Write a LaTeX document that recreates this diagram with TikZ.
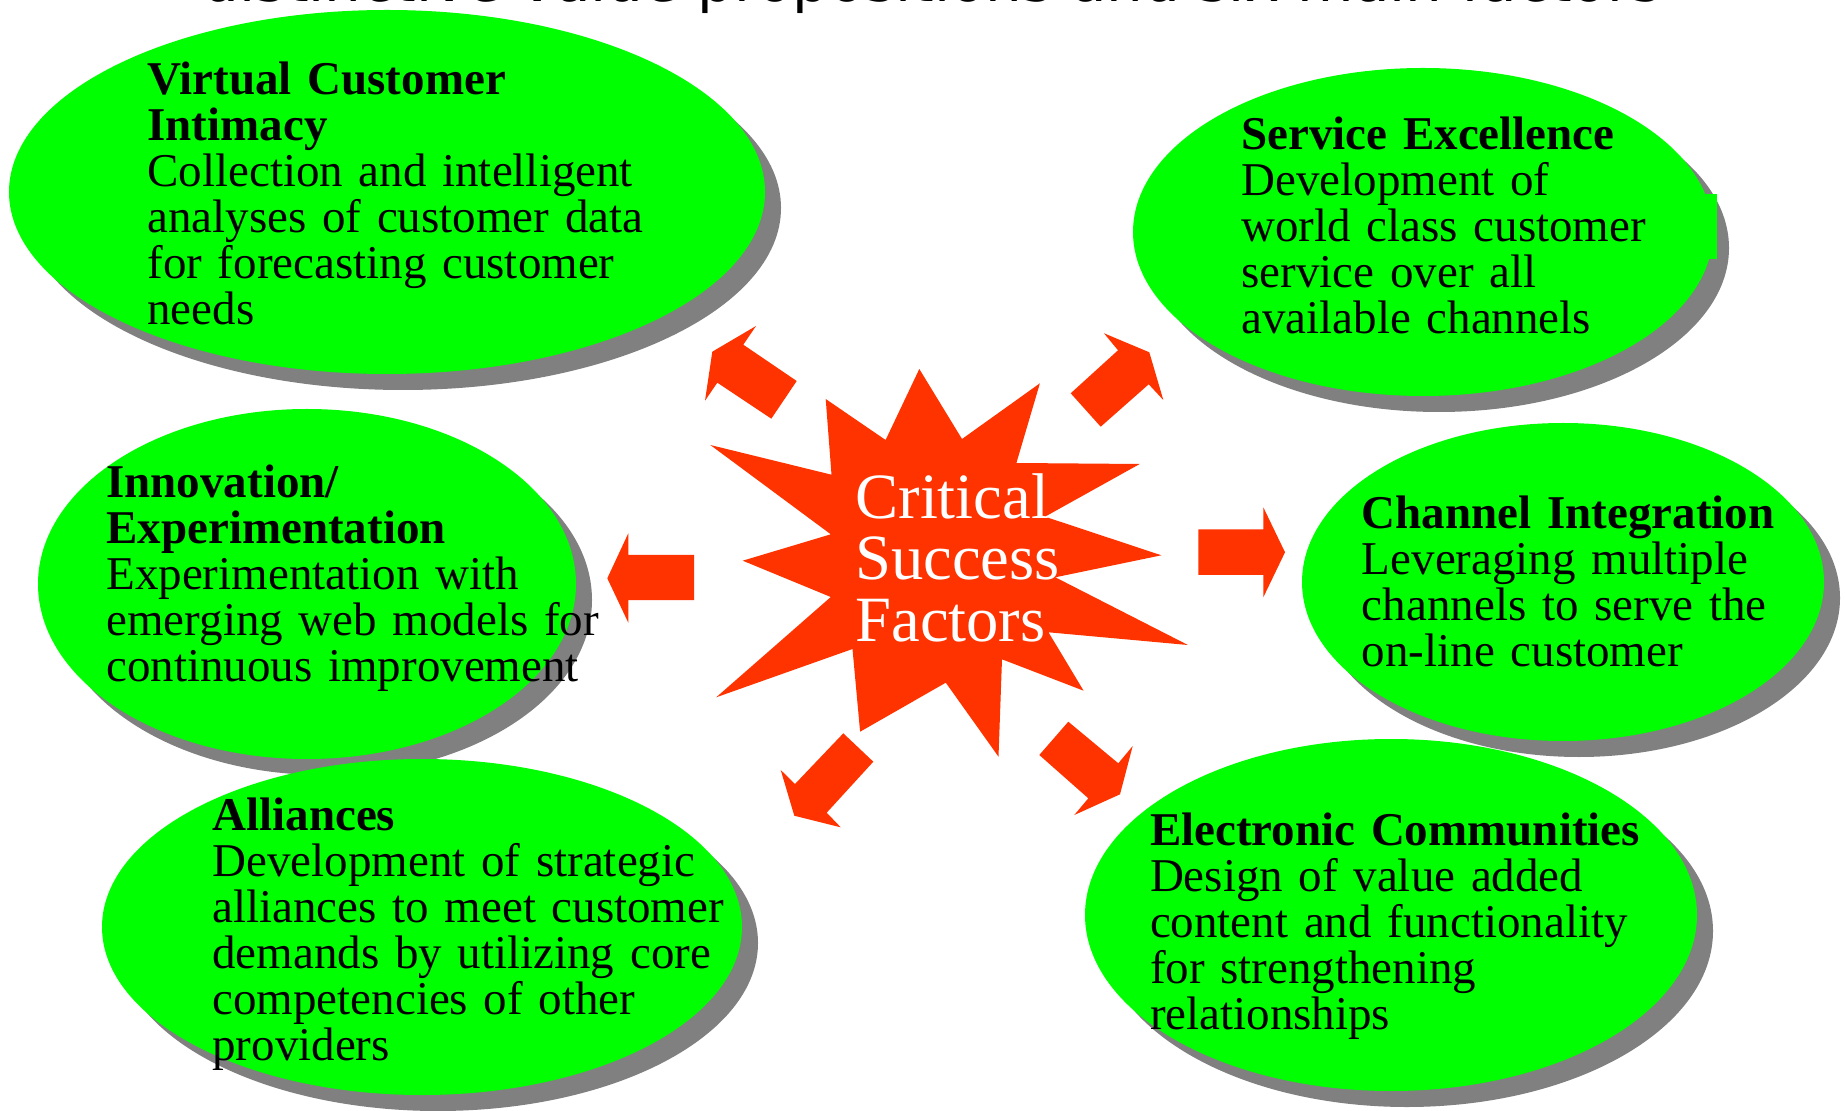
\documentclass[tikz,border=0pt]{standalone}
\usepackage{fontspec}
\setmainfont{Liberation Serif}
\newfontfamily\titlefont{DejaVu Sans}
\usetikzlibrary{shapes.geometric,shadows}
\definecolor{vgreen}{RGB}{0,255,0}
\definecolor{hot}{RGB}{255,51,0}
\definecolor{shgray}{RGB}{128,128,128}
\tikzset{
  blob/.style={ellipse, fill=vgreen, inner sep=0pt, outer sep=0pt,
    drop shadow={shadow xshift=8pt, shadow yshift=-8pt, fill=shgray, opacity=1}},
  txt/.style={anchor=base west, inner sep=0pt, text width=360pt, align=left,
    font=\fontsize{23.5}{23}\selectfont},
  hotarrow/.style={fill=hot},
}
\begin{document}
\begin{tikzpicture}[x=0.5pt,y=-0.5pt]
\useasboundingbox[fill=white] (0,0) rectangle (1845,1111);
% title (cut off at top)
\node[anchor=base, inner sep=0pt, font=\titlefont\fontsize{29}{30}\selectfont] (title) at (932,2) {distinctive value propositions and six main factors};
% ellipses
\node[blob, minimum width=378pt, minimum height=182pt] (vci) at (387,192) {};
\node[blob, minimum width=290pt, minimum height=164pt] (se) at (1423,232) {};
\fill[vgreen] (1690,194) rectangle (1717,259);
\node[blob, minimum width=269pt, minimum height=175pt] (ie) at (307,584) {};
\node[blob, minimum width=261pt, minimum height=159pt] (ci) at (1563,582) {};
\node[blob, minimum width=320pt, minimum height=168pt] (al) at (422,927) {};
\node[blob, minimum width=306pt, minimum height=176pt] (ec) at (1391,915) {};
% star
\fill[hot] (919.3,369.0) -- (962.0,439.0) -- (1039.9,383.3) -- (1016.4,463.0)
  -- (1139.7,464.0) -- (1045.0,516.7) -- (1161.4,555.3) -- (1055.3,577.3)
  -- (1187.9,645.0) -- (1048.5,632.3) -- (1083.6,690.7) -- (1002.0,659.3)
  -- (998.5,756.7) -- (945.8,682.7) -- (860.1,731.7) -- (852.5,649.0)
  -- (716.2,697.3) -- (830.8,597.0) -- (742.7,560.7) -- (830.8,534.3)
  -- (710.3,445.0) -- (831.5,474.7) -- (825.7,399.0) -- (885.6,440.0) -- cycle;
\node[anchor=base west, inner sep=0pt, text width=200pt, align=left, text=white,
  font=\fontsize{32.3}{30.8}\selectfont] (csf) at (855,518.3) {Critical\\Success\\Factors};
% block arrows
\fill[hotarrow] (743.3,344.7) -- (756,326) -- (712.3,351.7) -- (705,400.7)
  -- (717.3,382.7) -- (771.3,418.7) -- (796.7,381) -- cycle;
\fill[hotarrow] (1118,350.3) -- (1104,333.3) -- (1149.3,352.3) -- (1163.3,400)
  -- (1148.7,384.3) -- (1100.7,426.7) -- (1070.7,393.3) -- cycle;
\fill[hotarrow] (694,555) -- (628.3,555) -- (628.3,533.3) -- (607.3,578.3)
  -- (628.3,622.7) -- (628.3,600) -- (694,600) -- cycle;
\fill[hotarrow] (1198.3,529.3) -- (1263.3,529.3) -- (1263.3,507.3) -- (1285,552.3)
  -- (1263.3,597.3) -- (1263.3,575) -- (1198.3,575) -- cycle;
\fill[hotarrow] (843.3,733.3) -- (873.3,761.7) -- (826.7,812.7) -- (840.7,827.3)
  -- (794.3,815.7) -- (780.7,770) -- (795,784) -- cycle;
\fill[hotarrow] (1039.3,755) -- (1068.3,721.7) -- (1118.3,763.3) -- (1132.7,746)
  -- (1120,794.3) -- (1074.3,815) -- (1088.3,798.3) -- cycle;
% texts
\node[txt] (vcit) at (147,95) {\textbf{Virtual Customer}\\\textbf{Intimacy}\\Collection and intelligent\\analyses of customer data\\for forecasting customer\\needs};
\node[txt] (set) at (1241,150) {\textbf{Service Excellence}\\Development of\\world class customer\\service over all\\available channels};
\node[txt] (cit) at (1361.5,528.5) {\textbf{Channel Integration}\\Leveraging multiple\\channels to serve the\\on-line customer};
\node[txt] (iet) at (106,498) {\textbf{Innovation/}\\\textbf{Experimentation}\\Experimentation with\\emerging web models for\\continuous improvement};
\node[txt] (alt) at (212,830) {\textbf{Alliances}\\Development of strategic\\alliances to meet customer\\demands by utilizing core\\competencies of other\\providers};
\node[txt] (ect) at (1149.6,845) {\textbf{Electronic Communities}\\Design of value added\\content and functionality\\for strengthening\\relationships};
\end{tikzpicture}
\end{document}
